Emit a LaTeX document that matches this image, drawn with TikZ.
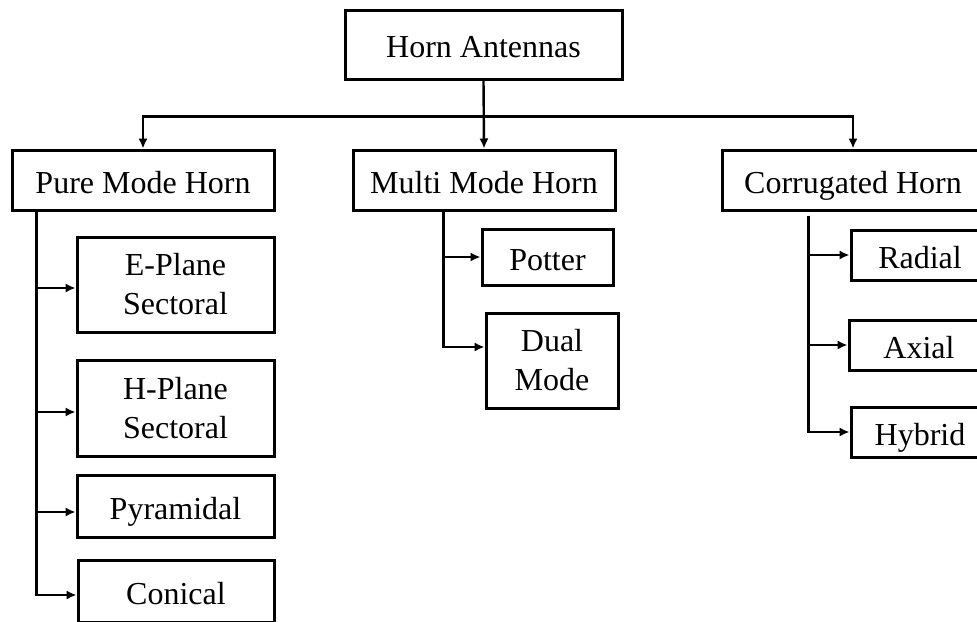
\documentclass[tikz,border=0pt]{standalone}
\usepackage{fontspec}
\setmainfont{Liberation Serif}
\usetikzlibrary{calc,arrows.meta}

\begin{document}
\begin{tikzpicture}[x=0.5pt,y=-0.5pt,
  every node/.style={rectangle, draw=black, line width=1.5pt, align=center, inner sep=0pt, font=\fontsize{16}{19.5}\selectfont},
  oneline/.style={text height=14pt, text depth=1pt},
  arr/.style={line width=1.2pt, -{Latex[length=5pt,width=4.6pt]}}]
\clip (0,0) rectangle (977,621);
% top
\node[oneline, minimum width=138.5pt, minimum height=34.5pt] (root) at (483.5,44.5) {Horn Antennas};
% horn families
\node[oneline, minimum width=131pt, minimum height=30pt] (pure) at (143,180) {Pure Mode Horn};
\node[oneline, minimum width=131pt, minimum height=30pt] (multi) at (484,180) {Multi Mode Horn};
\node[oneline, minimum width=131pt, minimum height=30pt] (corr) at (853,180) {Corrugated Horn};
% pure mode
\node[minimum width=98.5pt, minimum height=47.5pt] (eplane) at (175.5,284.5) {E-Plane\\Sectoral};
\node[minimum width=98.5pt, minimum height=48pt] (hplane) at (175.5,408) {H-Plane\\Sectoral};
\node[oneline, minimum width=98.5pt, minimum height=31pt] (pyr) at (175.5,506) {Pyramidal};
\node[oneline, minimum width=98pt, minimum height=31pt] (conical) at (176,591) {Conical};
% multi mode
\node[oneline, minimum width=65.5pt, minimum height=28pt] (potter) at (547.5,257) {Potter};
\node[minimum width=66pt, minimum height=47.5pt] (dual) at (552,360.5) {Dual\\Mode};
% corrugated
\node[oneline, minimum width=69pt, minimum height=25pt] (radial) at (920,255) {Radial};
\node[oneline, minimum width=70pt, minimum height=25pt] (axial) at (919,345) {Axial};
\node[oneline, minimum width=69pt, minimum height=25pt] (hybrid) at (920,432) {Hybrid};

\coordinate (bus) at ($(root.south)+(0,36)$);
\draw[arr] (root.south) -- (multi.north);
\draw[arr] (bus) -| (pure.north);
\draw[arr] (bus) -| (corr.north);

\coordinate (ptrunk) at ($(pure.south west)+(26,0)$);
\draw[arr] (ptrunk) |- ($(eplane.west)+(0,3.5)$);
\draw[arr] (ptrunk) |- ($(hplane.west)+(0,4)$);
\draw[arr] (ptrunk) |- ($(pyr.west)+(0,6)$);
\draw[arr] (ptrunk) |- ($(conical.west)+(0,4)$);

\coordinate (mtrunk) at ($(multi.south west)+(92,0)$);
\draw[arr] (mtrunk) |- (potter.west);
\draw[arr] (mtrunk) |- ($(dual.west)+(0,-13.5)$);

\coordinate (ctrunk) at ($(corr.south west)+(88,4)$);
\draw[arr] (ctrunk) |- (radial.west);
\draw[arr] (ctrunk) |- (axial.west);
\draw[arr] (ctrunk) |- (hybrid.west);
\end{tikzpicture}
\end{document}
